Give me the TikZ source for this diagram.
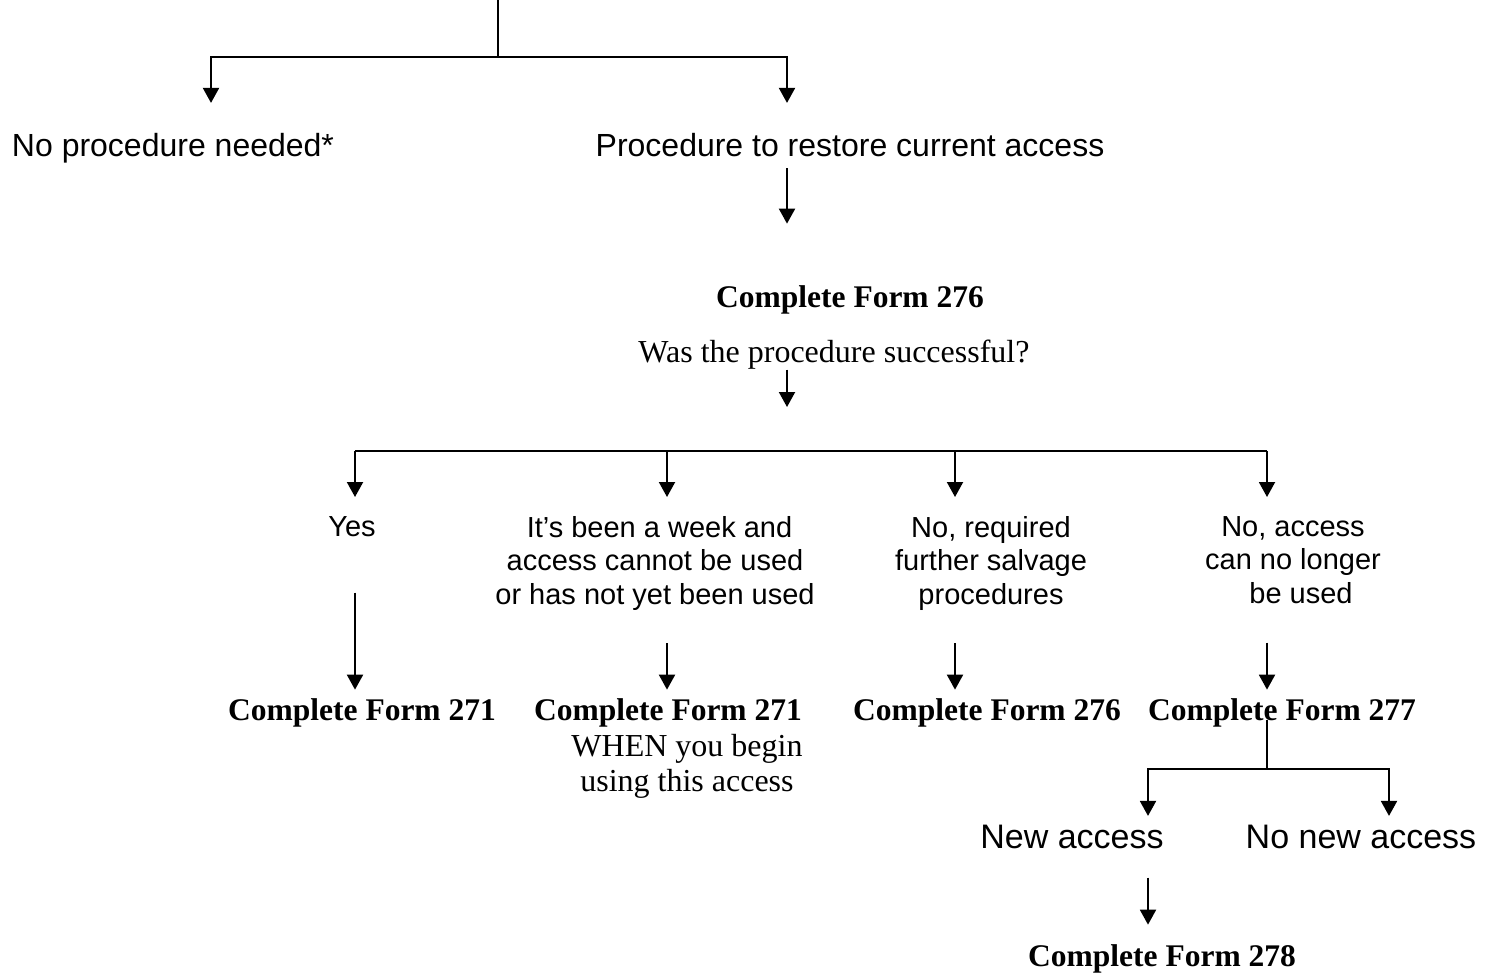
\documentclass[tikz,border=0pt]{standalone}
\usepackage{fontspec}
\setmainfont{Liberation Serif}
\newfontfamily\arialf{Liberation Sans}
\usetikzlibrary{arrows.meta}
\begin{document}
\begin{tikzpicture}[x=1pt,y=-1pt,
  ln/.style={line width=2pt},
  arr/.style={line width=2pt,-{Triangle[width=16pt,length=15pt]}},
  sA/.style={font=\arialf\fontsize{32}{35}\selectfont,inner sep=0pt,anchor=base},
  sM/.style={font=\arialf\fontsize{29}{33.5}\selectfont,inner sep=0pt,anchor=north,align=center},
  sN/.style={font=\arialf\fontsize{34}{38}\selectfont,inner sep=0pt,anchor=base},
  bform/.style={font=\bfseries\fontsize{31.5}{35}\selectfont,inner sep=0pt,anchor=base},
  rform/.style={font=\fontsize{32}{35}\selectfont,inner sep=0pt,anchor=base},
  rnote/.style={font=\fontsize{32}{35}\selectfont,inner sep=0pt,anchor=north,align=center}]
\useasboundingbox (0,0) rectangle (1498,975);
\fill[white] (0,0) rectangle (1498,975);
% coordinates
\coordinate (top) at (498,0);
\coordinate (j0) at (498,57);
\coordinate (cL) at (211,0);
\coordinate (cB) at (787,0);
\coordinate (fa) at (355,451);
\coordinate (fbb) at (667,451);
\coordinate (fc) at (955,451);
\coordinate (fd) at (1267,451);
\coordinate (j2) at (1267,769);
\coordinate (cE) at (1148,0);
\coordinate (cF) at (1389,0);
% nodes
\node[sA] (nop) at (173,156) {No procedure needed*};
\node[sA] (proc) at (850,156) {Procedure to restore current access};
\node[bform] (f276) at (850,307) {Complete Form 276};
\node[rform] (q) at (834,362) {Was the procedure successful?};
\node[sM] (yes) at (352,516) {Yes};
\node[sM] (week) at (655,516) {\hspace*{9pt}It’s been a week and\\access cannot be used\\or has not yet been used};
\node[sM] (req) at (991,516) {No, required\\further salvage\\procedures};
\node[sM] (acc) at (1293,516) {No, access\\can no longer\\\hspace*{16pt}be used};
\node[bform] (f271a) at (362,720) {Complete Form 271};
\node[bform] (f271b) at (668,720) {Complete Form 271};
\node[rnote] (note) at (687,734) {WHEN you begin\\using this access};
\node[bform] (f276b) at (987,720) {Complete Form 276};
\node[bform] (f277) at (1282,720) {Complete Form 277};
\node[sN] (newa) at (1072,848) {New access};
\node[sN] (nonew) at (1361,848) {No new access};
\node[bform] (f278) at (1162,966) {Complete Form 278};
% connectors
\draw[ln] (top) -- (j0);
\draw[arr,shorten >=29.7pt] (j0) -| (nop.north -| cL);
\draw[arr,shorten >=29.7pt] (j0) -| (proc.north -| cB);
\draw[arr,shorten <=11.5pt,shorten >=61.3pt] (proc.south -| cB) -- (f276.north -| cB);
\draw[arr,shorten <=0.5pt,shorten >=44pt] (q.south -| cB) -- (fa -| cB);
\draw[ln] (fa) -- (fd);
\draw[arr,shorten >=19pt] (fa) -- (yes.north -| fa);
\draw[arr,shorten >=19pt] (fbb) -- (week.north -| fbb);
\draw[arr,shorten >=19pt] (fc) -- (req.north -| fc);
\draw[arr,shorten >=19pt] (fd) -- (acc.north -| fd);
\draw[arr,shorten <=56pt,shorten >=8.3pt] (yes.south -| fa) -- (f271a.north -| fa);
\draw[arr,shorten <=33pt,shorten >=8.3pt] (week.south -| fbb) -- (f271b.north -| fbb);
\draw[arr,shorten <=33pt,shorten >=8.3pt] (req.south -| fc) -- (f276b.north -| fc);
\draw[arr,shorten <=39pt,shorten >=8.3pt] (acc.south -| fd) -- (f277.north -| fd);
\draw[ln] (f277.base -| j2) -- (j2);
\draw[arr,shorten >=8.5pt] (j2) -| (newa.north -| cE);
\draw[arr,shorten >=8.5pt] (j2) -| (nonew.north -| cF);
\draw[arr,shorten <=29pt,shorten >=19.3pt] (newa.south -| cE) -- (f278.north -| cE);
\end{tikzpicture}
\end{document}
